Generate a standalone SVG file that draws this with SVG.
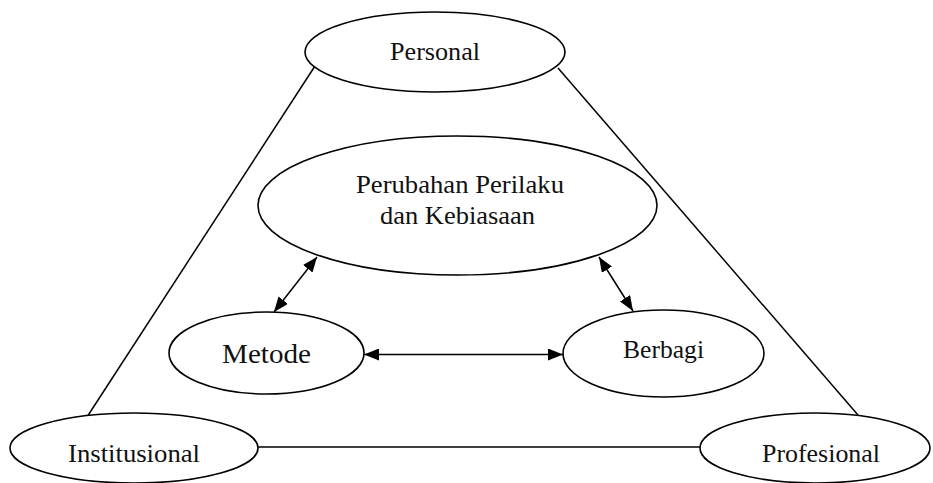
<svg xmlns="http://www.w3.org/2000/svg" width="933" height="483" viewBox="0 0 933 483">
<style>
.n{fill:#fff;stroke:#000;stroke-width:1.6}
.c{fill:none;stroke:#000;stroke-width:1.5}
.t{font-family:"Liberation Serif","Times New Roman",serif;font-size:25px;fill:#111;text-anchor:middle}
</style>
<defs>
<marker id="ah" viewBox="0 0 15 12" refX="15" refY="6" markerWidth="15" markerHeight="12" markerUnits="userSpaceOnUse" orient="auto-start-reverse">
<path d="M0,0 L15,6 L0,12 Z" fill="#000"/>
</marker>
</defs>
<rect width="933" height="483" fill="#fff"/>
<g id="connectors">
<line class="c" x1="315" y1="66" x2="87" y2="417"/>
<line class="c" x1="558" y1="68" x2="858" y2="415"/>
<line class="c" x1="258" y1="447" x2="700" y2="447"/>
<line class="c" x1="317" y1="257" x2="274" y2="312" marker-start="url(#ah)" marker-end="url(#ah)"/>
<line class="c" x1="599" y1="257" x2="633" y2="311" marker-start="url(#ah)" marker-end="url(#ah)"/>
<line class="c" x1="364" y1="354.5" x2="563" y2="354.5" marker-start="url(#ah)" marker-end="url(#ah)"/>
</g>
<g id="personal">
<ellipse class="n" cx="435" cy="52" rx="130" ry="40"/>
<text class="t" x="435" y="60" textLength="90" lengthAdjust="spacingAndGlyphs">Personal</text>
</g>
<g id="perubahan">
<ellipse class="n" cx="457.5" cy="205.5" rx="199.5" ry="69.5"/>
<text class="t" x="460" y="193" textLength="208" lengthAdjust="spacingAndGlyphs">Perubahan Perilaku</text>
<text class="t" x="457.5" y="224" textLength="155" lengthAdjust="spacingAndGlyphs">dan Kebiasaan</text>
</g>
<g id="metode">
<ellipse class="n" cx="266.5" cy="353" rx="97.5" ry="41"/>
<text class="t" x="266.5" y="363" style="font-size:27px" textLength="89" lengthAdjust="spacingAndGlyphs">Metode</text>
</g>
<g id="berbagi">
<ellipse class="n" cx="663.5" cy="353.5" rx="100.5" ry="43.5"/>
<text class="t" x="663.5" y="358" textLength="81" lengthAdjust="spacingAndGlyphs">Berbagi</text>
</g>
<g id="institutional">
<ellipse class="n" cx="134" cy="448" rx="124" ry="35"/>
<text class="t" x="134" y="462" textLength="132" lengthAdjust="spacingAndGlyphs">Institusional</text>
</g>
<g id="profesional">
<ellipse class="n" cx="815" cy="448" rx="115" ry="35"/>
<text class="t" x="821" y="462" textLength="118" lengthAdjust="spacingAndGlyphs">Profesional</text>
</g>
</svg>
